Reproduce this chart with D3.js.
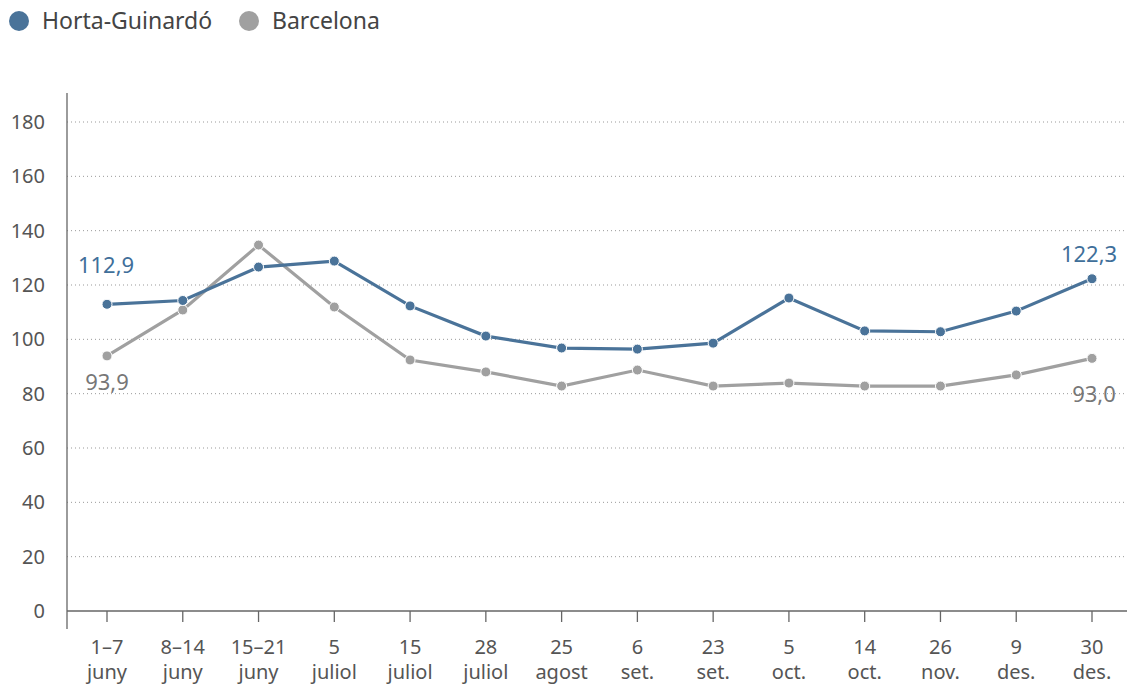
<!DOCTYPE html>
<html><head><meta charset="utf-8">
<script src="https://cdn.jsdelivr.net/npm/d3@7"></script>
<style>body{margin:0;background:#fff;font-family:"Noto Sans",Roboto,sans-serif;}</style>
</head><body>
<svg id="c" width="1127" height="684"></svg>
<script>
const categories = [["1–7","juny"],["8–14","juny"],["15–21","juny"],["5","juliol"],["15","juliol"],["28","juliol"],["25","agost"],["6","set."],["23","set."],["5","oct."],["14","oct."],["26","nov."],["9","des."],["30","des."]];
const horta = [112.9,114.3,126.6,128.8,112.3,101.2,96.8,96.4,98.6,115.2,103.1,102.8,110.4,122.3];
const barcelona = [93.9,110.8,134.7,111.9,92.4,88.0,82.8,88.7,82.8,83.9,82.8,82.8,86.9,93.0];
const yTicks = [0,20,40,60,80,100,120,140,160,180];
const seriesNames = ["Horta-Guinardó","Barcelona"];
const colors = ["#4a7399","#a0a0a0"];

const svg = d3.select("#c");
const x = d3.scalePoint().domain(d3.range(categories.length)).range([107,1092]);
const y = d3.scaleLinear().domain([0,180]).range([611,122]);

// grid
svg.append("g").selectAll("line").data(yTicks.filter(d=>d>0)).join("line")
  .attr("x1",67).attr("x2",1127).attr("y1",d=>y(d)).attr("y2",d=>y(d))
  .attr("stroke","#999").attr("stroke-width",1).attr("stroke-dasharray","1,3");

// y labels
svg.append("g").selectAll("text").data(yTicks).join("text")
  .attr("x",45).attr("y",d=>y(d)).attr("dy","0.35em").attr("text-anchor","end")
  .attr("font-size",20).attr("fill","#555").text(d=>d);

// axes lines
svg.append("line").attr("x1",67).attr("x2",67).attr("y1",93).attr("y2",629).attr("stroke","#666").attr("stroke-width",1.3);
svg.append("line").attr("x1",67).attr("x2",1127).attr("y1",611).attr("y2",611).attr("stroke","#666").attr("stroke-width",1.3);

// x ticks
const xg = svg.append("g");
xg.selectAll("line").data(d3.range(categories.length)).join("line")
  .attr("x1",d=>x(d)).attr("x2",d=>x(d)).attr("y1",611).attr("y2",622).attr("stroke","#666").attr("stroke-width",1.3);
const xt = xg.selectAll("text").data(categories).join("text")
  .attr("text-anchor","middle").attr("font-size",20).attr("fill","#555");
xt.append("tspan").attr("x",(d,i)=>x(i)).attr("y",654).text(d=>d[0]);
xt.append("tspan").attr("x",(d,i)=>x(i)).attr("y",679).text(d=>d[1]);

// lines
const line = d3.line().x((d,i)=>x(i)).y(d=>y(d));
[barcelona, horta].forEach((s,k)=>{
  const col = k===0?colors[1]:colors[0];
  svg.append("path").datum(s).attr("d",line).attr("fill","none").attr("stroke",col).attr("stroke-width",3.2);
  svg.append("g").selectAll("circle").data(s).join("circle")
    .attr("cx",(d,i)=>x(i)).attr("cy",d=>y(d)).attr("r",5).attr("fill",col)
    .attr("stroke","#fff").attr("stroke-width",1);
});

// end labels
const fmt = v => v.toFixed(1).replace(".",",");
const n = categories.length-1;
svg.append("text").attr("x",x(0)-1).attr("y",y(horta[0])-31).attr("text-anchor","middle").attr("font-size",22).attr("fill","#3f6f9a").text(fmt(horta[0]));
svg.append("text").attr("x",x(0)).attr("y",y(barcelona[0])+34).attr("text-anchor","middle").attr("font-size",22).attr("fill","#777").text(fmt(barcelona[0]));
svg.append("text").attr("x",x(n)-3).attr("y",y(horta[n])-17).attr("text-anchor","middle").attr("font-size",22).attr("fill","#3f6f9a").text(fmt(horta[n]));
svg.append("text").attr("x",x(n)+2).attr("y",y(barcelona[n])+44).attr("text-anchor","middle").attr("font-size",22).attr("fill","#777").text(fmt(barcelona[n]));

// legend
const lg = svg.append("g");
const lx = [19,249];
seriesNames.forEach((nm,i)=>{
  lg.append("circle").attr("cx",lx[i]).attr("cy",21).attr("r",10).attr("fill",colors[i]);
  lg.append("text").attr("x",lx[i]+23).attr("y",21).attr("dy","0.35em").attr("font-size",23).attr("fill","#444").text(nm);
});
</script>
</body></html>
